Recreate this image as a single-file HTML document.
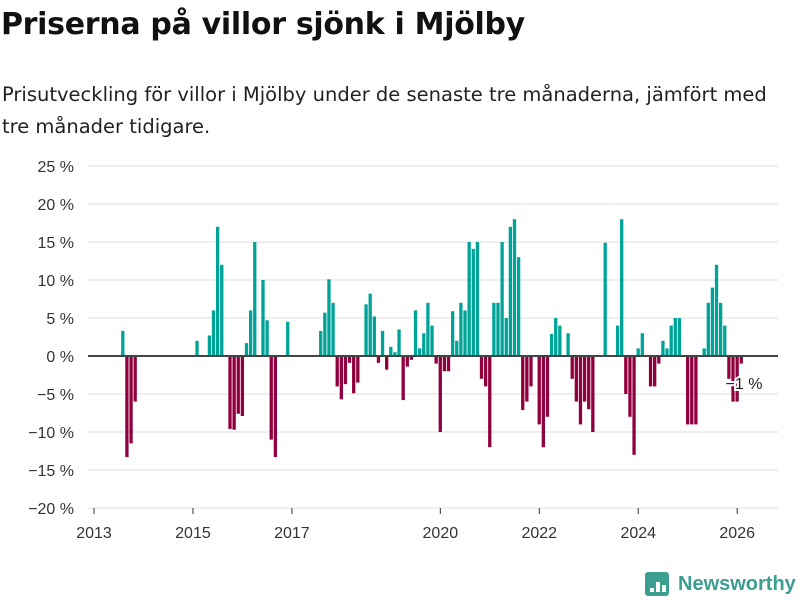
<!DOCTYPE html>
<html><head><meta charset="utf-8"><style>
body{margin:0;background:#fff;width:800px;height:600px;overflow:hidden;font-family:"Liberation Sans",sans-serif;}
#title{position:absolute;left:1px;top:7px;font-family:"DejaVu Sans",sans-serif;font-size:30px;font-weight:bold;color:#111;margin:0;letter-spacing:-0.3px;}
#sub{position:absolute;left:2px;top:79px;font-family:"DejaVu Sans",sans-serif;font-size:19.5px;line-height:32px;color:#222;width:770px;}
svg{position:absolute;left:0;top:0;}
</style></head><body>
<h1 id="title">Priserna på villor sjönk i Mjölby</h1>
<div id="sub">Prisutveckling för villor i Mjölby under de senaste tre månaderna, jämfört med tre månader tidigare.</div>
<svg id="chart" width="800" height="600"></svg>
<script>
const months=[7,8,9,10,25,28,29,30,31,33,34,35,36,37,38,39,41,42,43,44,47,
55,56,57,58,59,60,61,62,63,64,66,67,68,69,70,71,72,73,74,75,76,77,78,79,80,81,82,83,84,85,86,87,88,89,90,91,92,93,94,95,96,97,98,99,100,101,102,103,104,105,106,108,109,110,111,112,113,115,116,117,118,119,120,121,124,127,128,129,130,131,132,133,135,136,137,138,139,140,141,142,144,145,146,148,149,150,151,152,153,154,155,156,157];
const values=[3.3,-13.3,-11.5,-6,2,2.7,6,17,12,-9.6,-9.7,-7.6,-7.9,1.7,6,15,10,4.7,-11,-13.3,4.5,
3.3,5.7,10.1,7,-4,-5.7,-3.7,-0.9,-4.9,-3.5,6.8,8.2,5.2,-0.9,3.3,-1.8,1.2,0.5,3.5,-5.8,-1.4,-0.5,6,1,3,7,4,-1,-10,-2,-2,5.9,2,7,6,15,14.1,15,-3,-4,-12,7,7,15,5,17,18,13,-7.1,-6,-4,-9,-12,-8,2.9,5,4,3,-3,-6,-9,-6,-7,-10,14.9,4,18,-5,-8,-13,1,3,-4,-4,-1,2,1,4,5,5,-9,-9,-9,1,7,9,12,7,4,-3,-6,-6,-1];
const yTicks=[25,20,15,10,5,0,-5,-10,-15,-20];
const xYears=[2013,2015,2017,2020,2022,2024,2026];
const NS='http://www.w3.org/2000/svg';
const svg=document.getElementById('chart');
const y=v=>356-v*7.6;
const x=m=>94+m*4.123; // month index from Jan 2013
function el(t,a){const e=document.createElementNS(NS,t);for(const k in a)e.setAttribute(k,a[k]);svg.appendChild(e);return e;}
yTicks.forEach(t=>{
 const g=el('line',{x1:88,x2:778,y1:y(t),y2:y(t),stroke:'#ddd','stroke-width':1});
 
 
 const l=el('text',{x:74,y:y(t)+6,'text-anchor':'end','font-size':16,fill:'#333'});
 l.textContent=(t<0?'−'+(-t):t)+' %';
 
 
});
xYears.forEach(yr=>{
 const px=x((yr-2013)*12);
 const tk=el('line',{x1:px,x2:px,y1:508,y2:514,stroke:'#333','stroke-width':1});
 
 
 const l=el('text',{x:px,y:538,'text-anchor':'middle','font-size':16,fill:'#333'});
 l.textContent=yr;
 
 
});
months.forEach((m,i)=>{
 const v=values[i];const px=x(m);
 const b=el('rect',{x:px-1.7,width:3.3,y:Math.min(y(v),y(0)),height:Math.abs(y(v)-y(0)),fill:v>=0?'#00a398':'#90003e'});
 
 
});
const ax=el('line',{x1:88,x2:778,y1:356,y2:356,stroke:'#444','stroke-width':2});


const lbl=el('text',{x:744,y:389,'text-anchor':'middle','font-size':16,fill:'#222',stroke:'#fff','stroke-width':4,'paint-order':'stroke'});
lbl.textContent='−1 %';


const logo=el('g',{});


const r=document.createElementNS(NS,'rect');
[['x',645],['y',572],['width',24],['height',24],['rx',3],['fill','#3b9e8f']].forEach(a=>r.setAttribute(a[0],a[1]));logo.appendChild(r);
[[650,588,4],[656,582,10],[662,585,7]].forEach(a=>{const q=document.createElementNS(NS,'rect');q.setAttribute('x',a[0]);q.setAttribute('y',a[1]);q.setAttribute('width',4);q.setAttribute('height',a[2]);q.setAttribute('fill','#fff');logo.appendChild(q);});
const lt=document.createElementNS(NS,'text');
lt.setAttribute('x',678);lt.setAttribute('y',590);lt.setAttribute('font-size',20);lt.setAttribute('font-weight','bold');lt.setAttribute('fill','#3b9e8f');
lt.textContent='Newsworthy';logo.appendChild(lt);
</script>
</body></html>
